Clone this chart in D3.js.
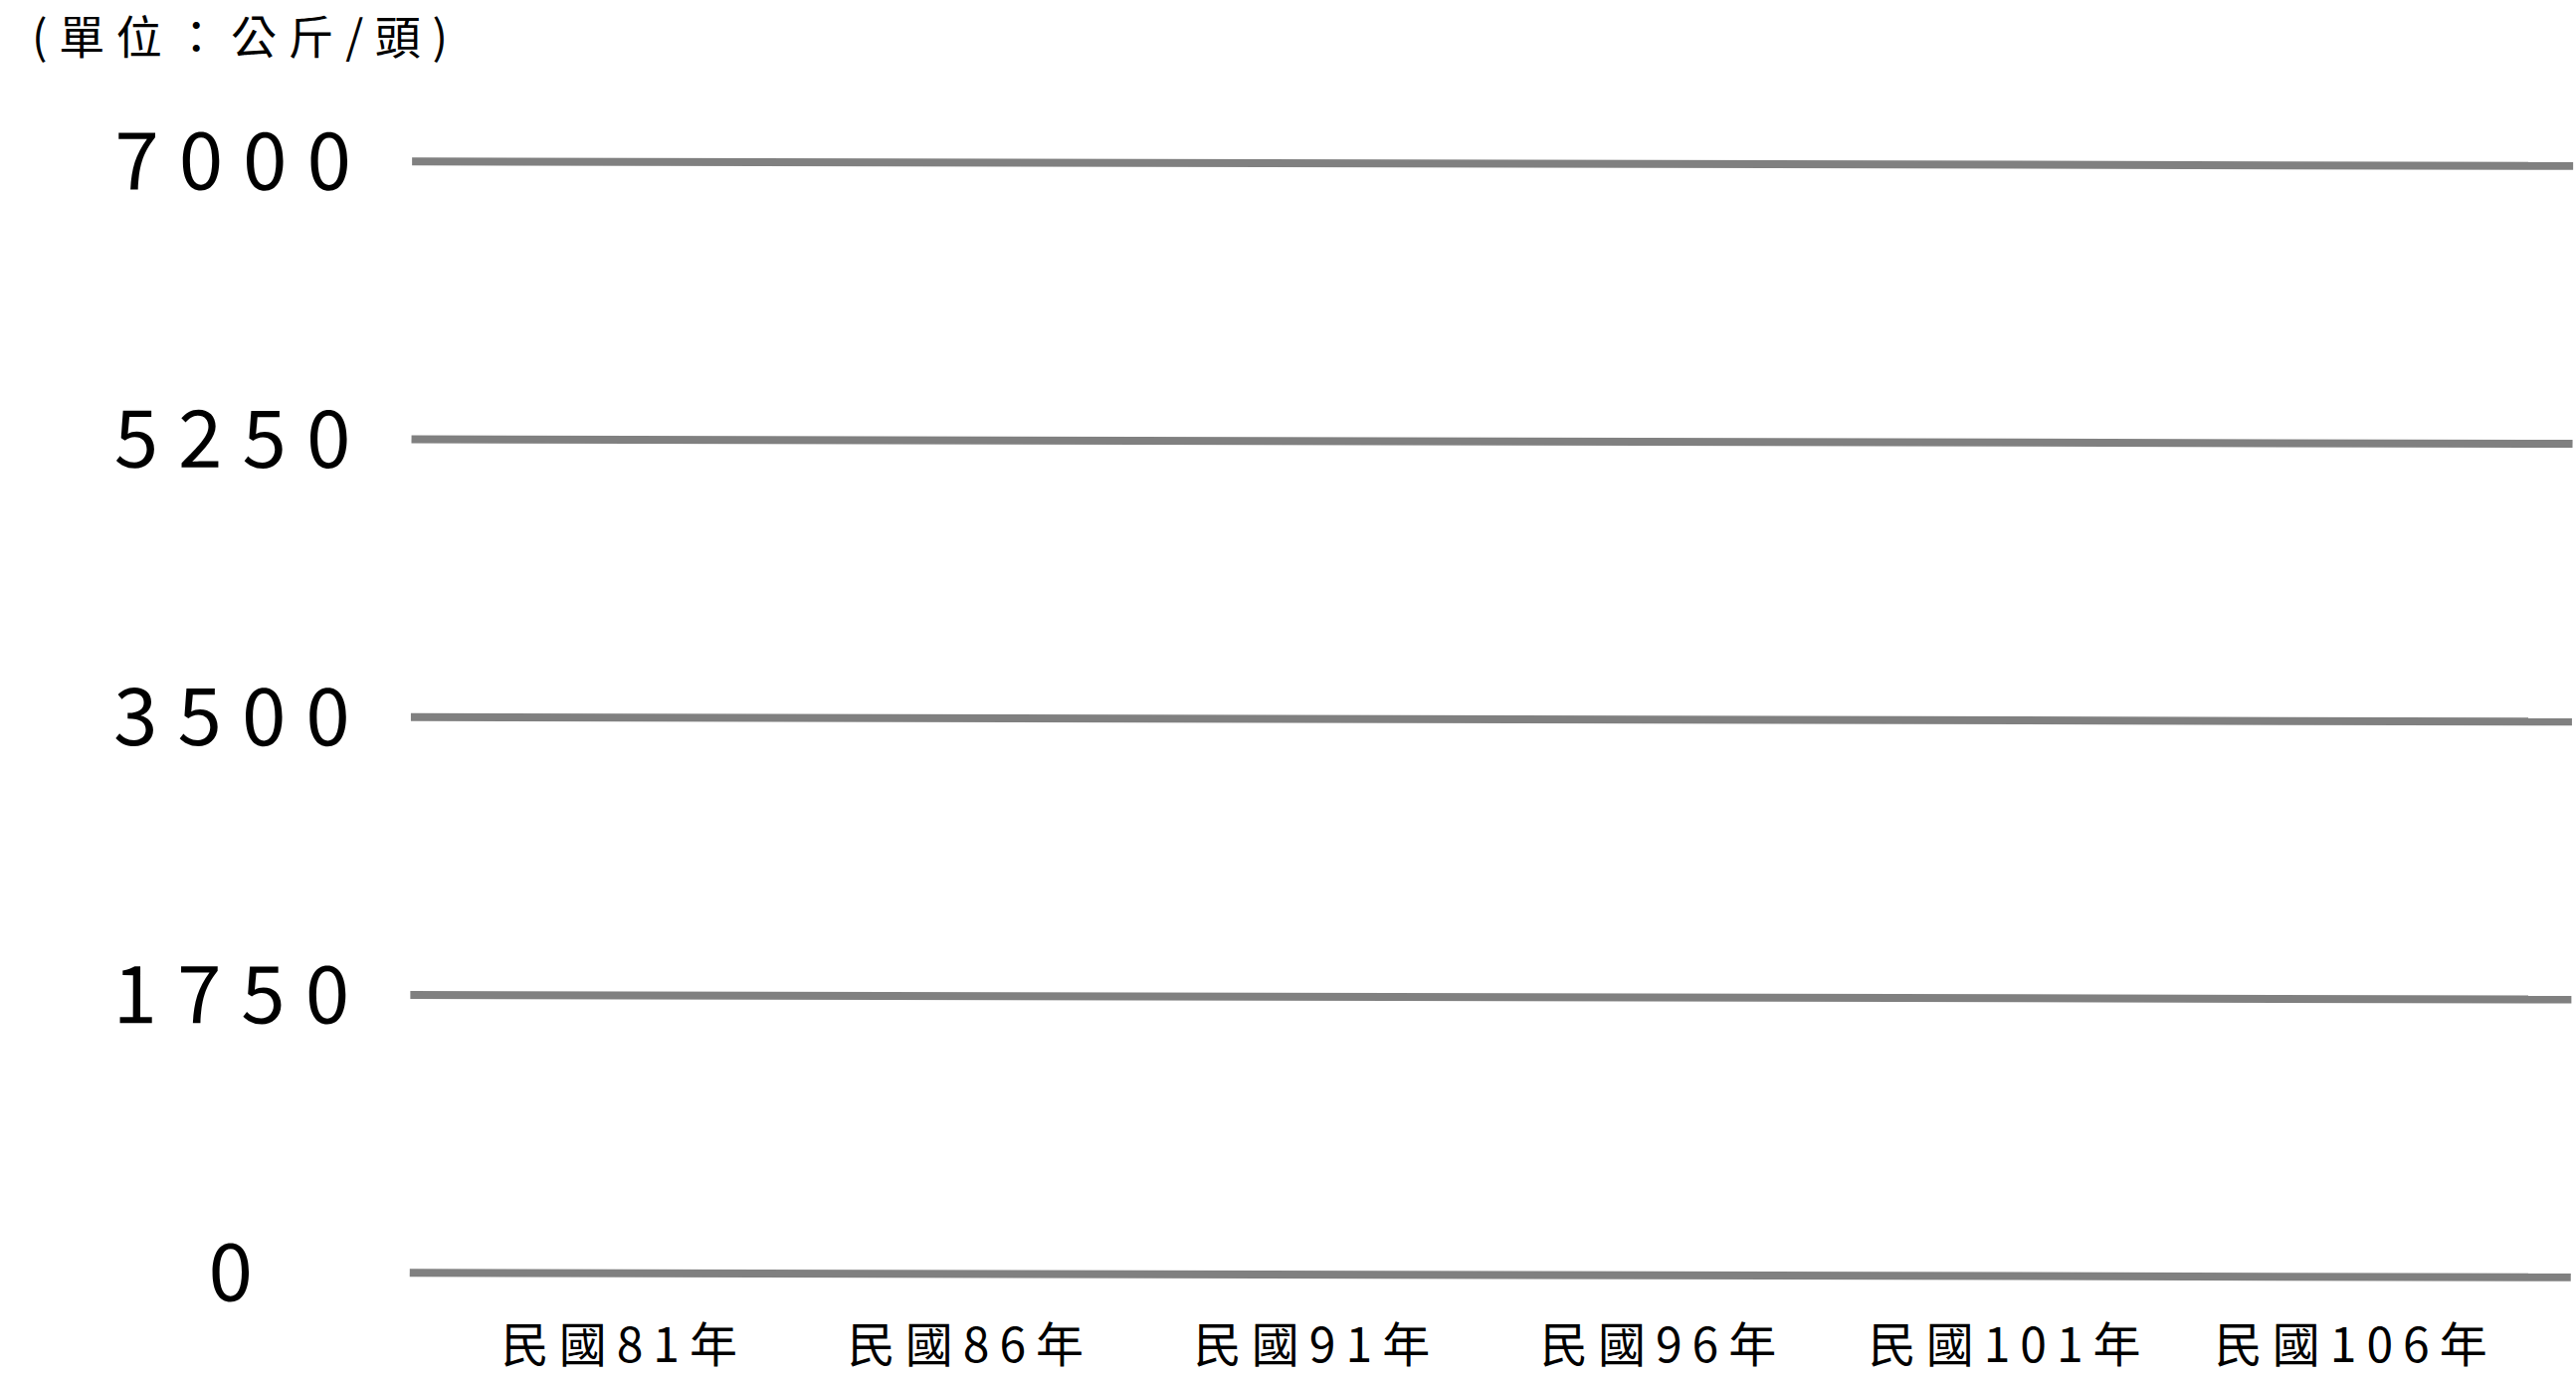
<!DOCTYPE html>
<html><head><meta charset="utf-8">
<script src="https://cdn.jsdelivr.net/npm/d3@7"></script>
<style>html,body{margin:0;padding:0;background:#fff;overflow:hidden}</style>
</head><body><svg id="chart"></svg>
<script>
const yTicks = [0, 1750, 3500, 5250, 7000];
const yTickLabels = ["0", "1750", "3500", "5250", "7000"];
const xYears = [81, 86, 91, 96, 101, 106];
const xLabels = ["民國81年", "民國86年", "民國91年", "民國96年", "民國101年", "民國106年"];
const unitLabel = "(單位：公斤/頭)";

const W = 2589, H = 1385;
const left = 413, right = 2585;
const FONT = "'Noto Sans CJK TC', 'Noto Sans', sans-serif";

const svg = d3.select("#chart").attr("width", W).attr("height", H)
  .style("background", "#fff");

const root = svg.append("g").attr("transform", "rotate(0.12,1500,700)");

const y = d3.scaleLinear().domain([0, 7000]).range([1281, 164]);
const x = d3.scaleLinear().domain([78, 109.2]).range([left, right]);

// Y axis with gridlines
const yAxis = d3.axisLeft(y)
  .tickValues(yTicks)
  .tickFormat((d, i) => yTickLabels[i])
  .tickSize(-(right - left));

const gy = root.append("g").attr("transform", `translate(${left},0)`).call(yAxis);
gy.select(".domain").remove();
gy.selectAll(".tick line").attr("stroke", "#808080").attr("stroke-width", 8);
gy.selectAll(".tick text")
  .attr("x", -170)
  .attr("dy", "0.36em")
  .attr("text-anchor", "middle")
  .attr("fill", "#000")
  .style("font-family", FONT)
  .style("font-size", "80px")
  .style("letter-spacing", "20px");

// X axis labels (not rotated)
const xAxis = d3.axisBottom(x)
  .tickValues(xYears)
  .tickFormat((d, i) => xLabels[i])
  .tickSize(0);

const gx = svg.append("g").attr("transform", "translate(0,1320)").call(xAxis);
gx.select(".domain").remove();
gx.selectAll(".tick text")
  .attr("x", 5)
  .attr("y", 32)
  .attr("dy", "0.36em")
  .attr("text-anchor", "middle")
  .attr("fill", "#000")
  .style("font-family", FONT)
  .style("font-size", "48px")
  .style("letter-spacing", "10px");

// Unit label
svg.append("text")
  .attr("x", 32)
  .attr("y", 54)
  .attr("textLength", 418)
  .attr("lengthAdjust", "spacing")
  .attr("fill", "#000")
  .style("font-family", FONT)
  .style("font-size", "46px")
  .text(unitLabel);
</script>
</body></html>
